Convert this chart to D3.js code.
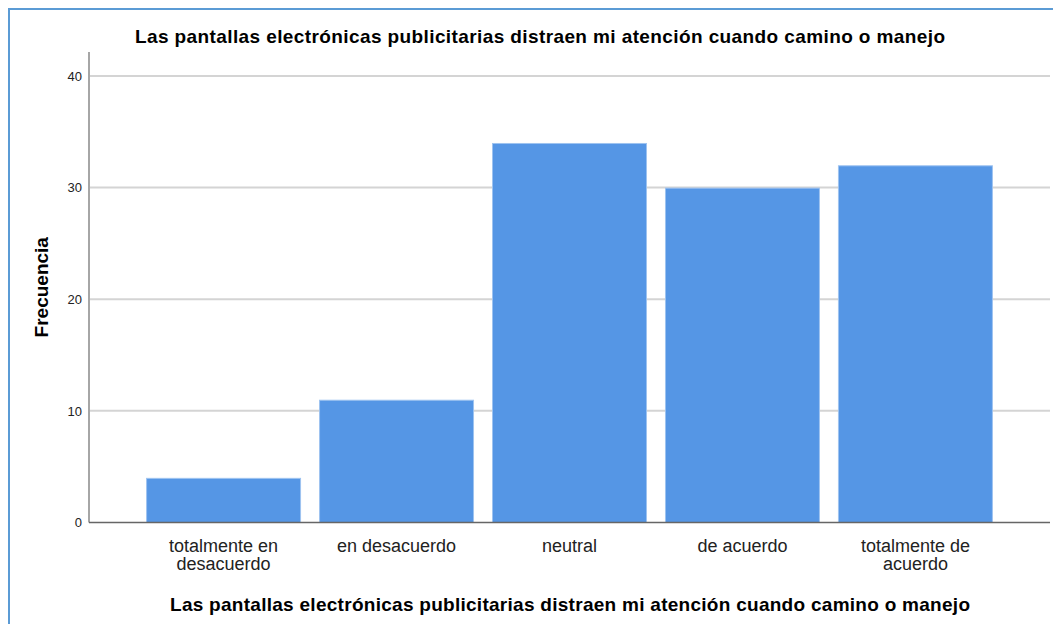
<!DOCTYPE html>
<html><head><meta charset="utf-8">
<script src="https://cdn.jsdelivr.net/npm/d3@7"></script>
<style>
html,body{margin:0;padding:0;background:#fff;}
svg{display:block;font-family:"Liberation Sans",Arial,sans-serif;}
</style></head>
<body>
<svg id="c" width="1053" height="624"></svg>
<script>
const categories = [["totalmente en","desacuerdo"],["en desacuerdo"],["neutral"],["de acuerdo"],["totalmente de","acuerdo"]];
const values = [4, 11, 34, 30, 32];
const yTicks = [0, 10, 20, 30, 40];
const title = "Las pantallas electrónicas publicitarias distraen mi atención cuando camino o manejo";
const xTitle = "Las pantallas electrónicas publicitarias distraen mi atención cuando camino o manejo";
const yTitle = "Frecuencia";

(function(){
const svg = d3.select("#c");
const W = 1053, H = 624;
const pL = 89, pR = 1050, pT = 52, pB = 522.5;

// frame
svg.append("path").attr("d", `M9,${H} L9,9 L${W},9`).attr("fill","none")
  .attr("stroke","#5b9bd5").attr("stroke-width",2);

const x = d3.scaleBand().domain(d3.range(values.length)).range([pL, pR])
  .paddingInner(0.104).paddingOuter(0.33);
const y = d3.scaleLinear().domain([0, 42.15]).range([pB, pT]);

// gridlines
svg.append("g").selectAll("line").data(yTicks.filter(d=>d>0)).join("line")
  .attr("x1", pL).attr("x2", pR).attr("y1", d=>y(d)).attr("y2", d=>y(d))
  .attr("stroke","#d4d4d4").attr("stroke-width",2);

// bars
svg.append("g").selectAll("rect").data(values).join("rect")
  .attr("x", (d,i)=>x(i)+0.5).attr("width", x.bandwidth()-1)
  .attr("y", d=>y(d)+0.5).attr("height", d=>pB - y(d) - 0.5)
  .attr("fill","#5596e5").attr("stroke","#9ec3f0").attr("stroke-width",1);

// y axis
const yAxis = d3.axisLeft(y).tickValues(yTicks).tickSize(0).tickPadding(7);
const gy = svg.append("g").attr("transform",`translate(${pL},0)`).call(yAxis);
gy.select(".domain").remove();
gy.selectAll("text").attr("font-size","13px").attr("fill","#222").attr("font-family","Liberation Sans, Arial, sans-serif");
svg.append("line").attr("x1",pL).attr("x2",pL).attr("y1",pT).attr("y2",pB)
  .attr("stroke","#a6a6a6").attr("stroke-width",2);

// x axis
const xAxis = d3.axisBottom(x).tickSize(0).tickFormat(()=> "");
const gx = svg.append("g").attr("transform",`translate(0,${pB})`).call(xAxis);
gx.select(".domain").remove();
gx.selectAll(".tick").each(function(d){
  const t = d3.select(this).append("text").attr("text-anchor","middle")
    .attr("font-size","18px").attr("fill","#222").attr("font-family","Liberation Sans, Arial, sans-serif");
  categories[d].forEach((s,k)=>t.append("tspan").attr("x",0).attr("y", 29 + k*18).text(s));
});
svg.append("line").attr("x1",pL).attr("x2",pR).attr("y1",pB).attr("y2",pB)
  .attr("stroke","#666").attr("stroke-width",1.5);

// titles
svg.append("text").attr("x",540).attr("y",43).attr("text-anchor","middle")
  .attr("font-size","19px").attr("font-weight","bold").attr("fill","#000")
  .attr("textLength",810).attr("lengthAdjust","spacing").text(title);
svg.append("text").attr("x",570).attr("y",611).attr("text-anchor","middle")
  .attr("font-size","19px").attr("font-weight","bold").attr("fill","#000")
  .attr("textLength",800).attr("lengthAdjust","spacing").text(xTitle);
svg.append("text").attr("transform",`translate(48,${(pT+pB)/2}) rotate(-90)`).attr("text-anchor","middle")
  .attr("font-size","19px").attr("font-weight","bold").attr("fill","#000").text(yTitle);
})();
</script>
</body></html>
